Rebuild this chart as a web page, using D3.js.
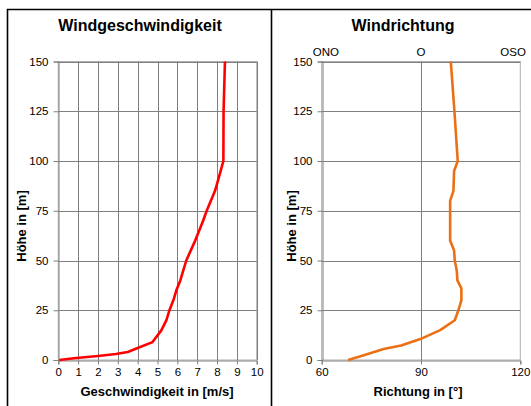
<!DOCTYPE html>
<html><head><meta charset="utf-8">
<script src="https://cdn.jsdelivr.net/npm/d3@7"></script>
<style>body{margin:0;background:#fff;}svg{display:block;font-family:"Liberation Sans",Arial,sans-serif;}</style>
</head><body>
<script>
// Data
const speedHeights = [0,1,2,3,4,6,9,15,20,25,30,35,40,50,60,70,75,85,92,100,125,150];
const speedValues  = [0.05,0.9,2.0,2.9,3.5,4.0,4.75,5.2,5.45,5.6,5.8,5.95,6.15,6.45,6.9,7.3,7.48,7.9,8.1,8.32,8.33,8.4];
const dirHeights = [0,2,5.5,7.3,10.5,15,20,25,30,36,40,45,50,55,60,80,85,95,100,125,150];
const dirValues  = [68,72,78.7,84,89.8,95.8,100.2,101.3,102.2,102.2,101,100.8,100.2,100,98.8,98.8,99.8,100,101.1,100.1,99];
const heightTicks = [0,25,50,75,100,125,150];
const speedTicks = [0,1,2,3,4,5,6,7,8,9,10];
const dirTicks = [60,90,120];
const dirTopLabels = [{v:60,t:"ONO"},{v:90,t:"O"},{v:120,t:"OSO"}];

const W=531,H=406;
const svg=d3.select("body").append("svg").attr("width",W).attr("height",H);

// frame
svg.append("path").attr("d",`M7.5,${H} V9.5 H${W} M271.5,9.5 V${H}`)
  .attr("fill","none").attr("stroke","#000").attr("stroke-width",1.6);

const y=d3.scaleLinear().domain([0,150]).range([360,61.5]);

function panel(opt){
  const x=d3.scaleLinear().domain(opt.domain).range(opt.range);
  const g=svg.append("g");
  g.append("rect").attr("x",opt.range[0]).attr("y",y(150)).attr("width",opt.range[1]-opt.range[0]).attr("height",y(0)-y(150))
    .attr("fill","none").attr("stroke","#b0b0b0").attr("stroke-width",1);
  g.selectAll(".vg").data(opt.vgrid).join("line")
    .attr("x1",d=>Math.round(x(d))+0.5).attr("x2",d=>Math.round(x(d))+0.5)
    .attr("y1",y(150)).attr("y2",y(0)).attr("stroke","#7f7f7f").attr("stroke-width",1);
  g.selectAll(".hg").data(heightTicks.slice(1)).join("line")
    .attr("x1",opt.range[0]).attr("x2",opt.range[1])
    .attr("y1",d=>Math.round(y(d))+0.5).attr("y2",d=>Math.round(y(d))+0.5)
    .attr("stroke","#7f7f7f").attr("stroke-width",1);
  const ax=d3.axisBottom(x).tickValues(opt.ticks).tickSize(4).tickPadding(3).tickFormat(d3.format("d"));
  const ga=g.append("g").attr("transform",`translate(0,${Math.round(y(0))+0.5})`).call(ax);
  ga.select(".domain").attr("stroke","#808080");
  ga.selectAll(".tick line").attr("stroke","#808080");
  ga.selectAll("text").attr("font-size",11.5).attr("fill","#000").attr("font-family","Liberation Sans, Arial, sans-serif");
  const ay=d3.axisLeft(y).tickValues(heightTicks).tickSize(5).tickPadding(5);
  const gy=g.append("g").attr("transform",`translate(${Math.round(opt.range[0])+0.5},0)`).call(ay);
  gy.select(".domain").attr("stroke","#808080");
  gy.selectAll(".tick line").attr("stroke","#808080");
  gy.selectAll("text").attr("font-size",11.5).attr("fill","#000").attr("font-family","Liberation Sans, Arial, sans-serif");
  const data=opt.h.map((h,i)=>[opt.v[i],h]);
  g.append("path").datum(data).attr("fill","none").attr("stroke",opt.color).attr("stroke-width",2.6)
    .attr("stroke-linejoin","round")
    .attr("d",d3.line().x(d=>x(d[0])).y(d=>y(d[1])));
  g.append("text").attr("x",opt.titleX).attr("y",31).attr("text-anchor","middle")
    .attr("font-weight","bold").attr("font-size",16).text(opt.title);
  g.append("text").attr("x",opt.xlabX).attr("y",396).attr("text-anchor","middle")
    .attr("font-weight","bold").attr("font-size",13).text(opt.xlab);
  g.append("text").attr("transform",`translate(${opt.ylabX},226) rotate(-90)`).attr("text-anchor","middle")
    .attr("font-weight","bold").attr("font-size",13).text("Höhe in [m]");
  return x;
}

panel({domain:[0,10],range:[58.3,256.7],ticks:speedTicks,vgrid:speedTicks.slice(1),h:speedHeights,v:speedValues,
  color:"#ff0000",title:"Windgeschwindigkeit",titleX:140,xlab:"Geschwindigkeit in [m/s]",xlabX:157,ylabX:26});
const xd=panel({domain:[60,120],range:[321.7,520.3],ticks:dirTicks,vgrid:[90],h:dirHeights,v:dirValues,
  color:"#eb7015",title:"Windrichtung",titleX:403,xlabX:418,xlab:"Richtung in [°]",ylabX:296});

svg.selectAll(".toplab").data(dirTopLabels).join("text")
  .attr("x",d=>d.v===60?xd(d.v)-9:d.v===120?xd(d.v)-20:xd(d.v)).attr("y",56)
  .attr("text-anchor",d=>d.v===90?"middle":"start")
  .attr("font-size",11.5).text(d=>d.t);
</script>
</body></html>
